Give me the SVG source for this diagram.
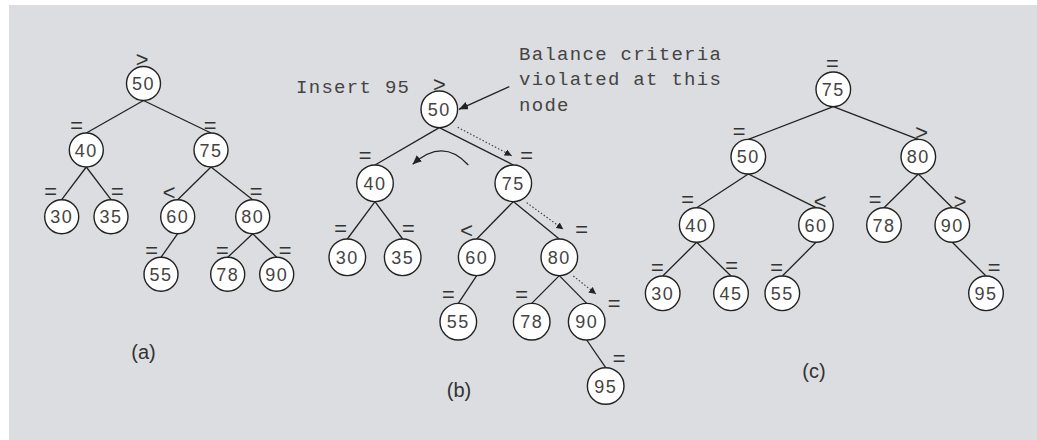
<svg xmlns="http://www.w3.org/2000/svg" width="1037" height="440" viewBox="0 0 1037 440">
<style>
.bg{fill:#dcdde0}
.n circle{fill:#fff;stroke:#222;stroke-width:1.4}
.n text{font-family:"Liberation Sans",Arial,sans-serif;font-size:18px;letter-spacing:1.5px;fill:#444;text-anchor:middle}
.e line,.e path{stroke:#222;stroke-width:1.3;fill:none}
.e .dot{stroke:#444;stroke-width:1.2;stroke-dasharray:1.5 2}
.bal{font-family:"Liberation Mono","Courier New",monospace;font-size:22px;fill:#333;text-anchor:middle}
.note{font-family:"Liberation Mono","Courier New",monospace;font-size:19px;letter-spacing:1.3px;fill:#444}
.cap{font-family:"Liberation Sans",Arial,sans-serif;font-size:20px;fill:#333;text-anchor:middle}
</style>
<defs>
<marker id="ah" markerUnits="userSpaceOnUse" markerWidth="10" markerHeight="8" refX="9" refY="4" orient="auto"><path d="M0,0 L9,4 L0,8 z" fill="#222"/></marker>
<marker id="ahs" markerUnits="userSpaceOnUse" markerWidth="8" markerHeight="7" refX="7" refY="3.5" orient="auto"><path d="M0,0 L7,3.5 L0,7 z" fill="#222"/></marker>
</defs>
<rect class="bg" x="9" y="5" width="1028" height="435"/>

<g id="connectors" class="e">
<line x1="143.5" y1="100.5" x2="86.3" y2="133"/>
<line x1="143.5" y1="100.5" x2="211" y2="133"/>
<line x1="86.3" y1="167" x2="61.7" y2="199.7"/>
<line x1="86.3" y1="167" x2="111" y2="199.7"/>
<line x1="211" y1="167" x2="177.7" y2="199.7"/>
<line x1="211" y1="167" x2="252.7" y2="199.7"/>
<line x1="177.7" y1="233.7" x2="161" y2="257.3"/>
<line x1="252.7" y1="233.7" x2="227.7" y2="257.3"/>
<line x1="252.7" y1="233.7" x2="276.7" y2="257.3"/>
<line x1="439.3" y1="127.6" x2="375" y2="165"/>
<line x1="439.3" y1="127.6" x2="513.3" y2="165"/>
<line x1="375" y1="201.6" x2="347.3" y2="239"/>
<line x1="375" y1="201.6" x2="402.7" y2="239"/>
<line x1="513.3" y1="201.6" x2="476.7" y2="239"/>
<line x1="513.3" y1="201.6" x2="559.3" y2="239"/>
<line x1="476.7" y1="275.6" x2="458.3" y2="303.4"/>
<line x1="559.3" y1="275.6" x2="531.7" y2="303.4"/>
<line x1="559.3" y1="275.6" x2="586.7" y2="303.4"/>
<line x1="586.7" y1="340" x2="605.7" y2="367.7"/>
<line class="dot" x1="457.7" y1="127.3" x2="511.7" y2="155.7" marker-end="url(#ahs)"/>
<line class="dot" x1="526.7" y1="202.7" x2="563.3" y2="229.3" marker-end="url(#ahs)"/>
<line class="dot" x1="573.3" y1="276" x2="596" y2="294" marker-end="url(#ahs)"/>
<path d="M468.3,165 Q443,137 412.7,164.3" marker-end="url(#ah)"/>
<line x1="509.3" y1="86.7" x2="459" y2="109.3" marker-end="url(#ah)"/>
<line x1="833.3" y1="106.6" x2="748.3" y2="139.4"/>
<line x1="833.3" y1="106.6" x2="918.3" y2="139.4"/>
<line x1="748.3" y1="174" x2="696.7" y2="207.7"/>
<line x1="748.3" y1="174" x2="816" y2="207.7"/>
<line x1="918.3" y1="174" x2="884" y2="207.7"/>
<line x1="918.3" y1="174" x2="952.3" y2="207.7"/>
<line x1="696.7" y1="242.3" x2="662.7" y2="276"/>
<line x1="696.7" y1="242.3" x2="731" y2="276"/>
<line x1="816" y1="242.3" x2="782.3" y2="276"/>
<line x1="952.3" y1="242.3" x2="986" y2="276"/>
</g>

<g id="a50" class="n"><circle cx="143.5" cy="83.5" r="17"/><text x="143.5" y="90">50</text></g>
<g id="a40" class="n"><circle cx="86.3" cy="150" r="17"/><text x="86.3" y="156.5">40</text></g>
<g id="a75" class="n"><circle cx="211" cy="150" r="17"/><text x="211" y="156.5">75</text></g>
<g id="a30" class="n"><circle cx="61.7" cy="216.7" r="17"/><text x="61.7" y="223.2">30</text></g>
<g id="a35" class="n"><circle cx="111" cy="216.7" r="17"/><text x="111" y="223.2">35</text></g>
<g id="a60" class="n"><circle cx="177.7" cy="216.7" r="17"/><text x="177.7" y="223.2">60</text></g>
<g id="a80" class="n"><circle cx="252.7" cy="216.7" r="17"/><text x="252.7" y="223.2">80</text></g>
<g id="a55" class="n"><circle cx="161" cy="274.3" r="17"/><text x="161" y="280.8">55</text></g>
<g id="a78" class="n"><circle cx="227.7" cy="274.3" r="17"/><text x="227.7" y="280.8">78</text></g>
<g id="a90" class="n"><circle cx="276.7" cy="274.3" r="17"/><text x="276.7" y="280.8">90</text></g>

<g id="b50" class="n"><circle cx="439.3" cy="109.3" r="18.3"/><text x="439.3" y="115.8">50</text></g>
<g id="b40" class="n"><circle cx="375" cy="183.3" r="18.3"/><text x="375" y="189.8">40</text></g>
<g id="b75" class="n"><circle cx="513.3" cy="183.3" r="18.3"/><text x="513.3" y="189.8">75</text></g>
<g id="b30" class="n"><circle cx="347.3" cy="257.3" r="18.3"/><text x="347.3" y="263.8">30</text></g>
<g id="b35" class="n"><circle cx="402.7" cy="257.3" r="18.3"/><text x="402.7" y="263.8">35</text></g>
<g id="b60" class="n"><circle cx="476.7" cy="257.3" r="18.3"/><text x="476.7" y="263.8">60</text></g>
<g id="b80" class="n"><circle cx="559.3" cy="257.3" r="18.3"/><text x="559.3" y="263.8">80</text></g>
<g id="b55" class="n"><circle cx="458.3" cy="321.7" r="18.3"/><text x="458.3" y="328.2">55</text></g>
<g id="b78" class="n"><circle cx="531.7" cy="321.7" r="18.3"/><text x="531.7" y="328.2">78</text></g>
<g id="b90" class="n"><circle cx="586.7" cy="321.7" r="18.3"/><text x="586.7" y="328.2">90</text></g>
<g id="b95" class="n"><circle cx="605.7" cy="386" r="18.3"/><text x="605.7" y="392.5">95</text></g>

<g id="c75" class="n"><circle cx="833.3" cy="89.3" r="17.3"/><text x="833.3" y="95.8">75</text></g>
<g id="c50" class="n"><circle cx="748.3" cy="156.7" r="17.3"/><text x="748.3" y="163.2">50</text></g>
<g id="c80" class="n"><circle cx="918.3" cy="156.7" r="17.3"/><text x="918.3" y="163.2">80</text></g>
<g id="c40" class="n"><circle cx="696.7" cy="225" r="17.3"/><text x="696.7" y="231.5">40</text></g>
<g id="c60" class="n"><circle cx="816" cy="225" r="17.3"/><text x="816" y="231.5">60</text></g>
<g id="c78" class="n"><circle cx="884" cy="225" r="17.3"/><text x="884" y="231.5">78</text></g>
<g id="c90" class="n"><circle cx="952.3" cy="225" r="17.3"/><text x="952.3" y="231.5">90</text></g>
<g id="c30" class="n"><circle cx="662.7" cy="293.3" r="17.3"/><text x="662.7" y="299.8">30</text></g>
<g id="c45" class="n"><circle cx="731" cy="293.3" r="17.3"/><text x="731" y="299.8">45</text></g>
<g id="c55" class="n"><circle cx="782.3" cy="293.3" r="17.3"/><text x="782.3" y="299.8">55</text></g>
<g id="c95" class="n"><circle cx="986" cy="293.3" r="17.3"/><text x="986" y="299.8">95</text></g>

<g id="balance-labels" class="bal">
<text x="142" y="66.5">&gt;</text>
<text x="76.7" y="133">=</text>
<text x="210" y="133">=</text>
<text x="50.7" y="198.7">=</text>
<text x="117.3" y="198.7">=</text>
<text x="169" y="199.8">&lt;</text>
<text x="256" y="198.7">=</text>
<text x="151.7" y="257.7">=</text>
<text x="222.3" y="257.7">=</text>
<text x="285" y="257.7">=</text>

<text x="439.3" y="91.5">&gt;</text>
<text x="365" y="162.7">=</text>
<text x="526.7" y="162.7">=</text>
<text x="340.7" y="236.3">=</text>
<text x="408.3" y="236.3">=</text>
<text x="466.7" y="237.5">&lt;</text>
<text x="581.7" y="237">=</text>
<text x="448.3" y="302">=</text>
<text x="521.7" y="302">=</text>
<text x="614" y="311">=</text>
<text x="619" y="366.3">=</text>

<text x="832.3" y="71">=</text>
<text x="739" y="138.7">=</text>
<text x="921.7" y="140.2">&gt;</text>
<text x="687.7" y="207">=</text>
<text x="820" y="208.5">&lt;</text>
<text x="875" y="207">=</text>
<text x="960" y="208.5">&gt;</text>
<text x="657.3" y="274.7">=</text>
<text x="731.7" y="273">=</text>
<text x="776.7" y="274.7">=</text>
<text x="994" y="274.7">=</text>
</g>

<g id="notes" class="note">
<text x="296" y="92.7">Insert 95</text>
<text x="519" y="59.5">Balance criteria</text>
<text x="519" y="85">violated at this</text>
<text x="519" y="110.5">node</text>
</g>

<g id="captions" class="cap">
<text x="143.5" y="358.5">(a)</text>
<text x="459" y="397">(b)</text>
<text x="814" y="378">(c)</text>
</g>
</svg>
